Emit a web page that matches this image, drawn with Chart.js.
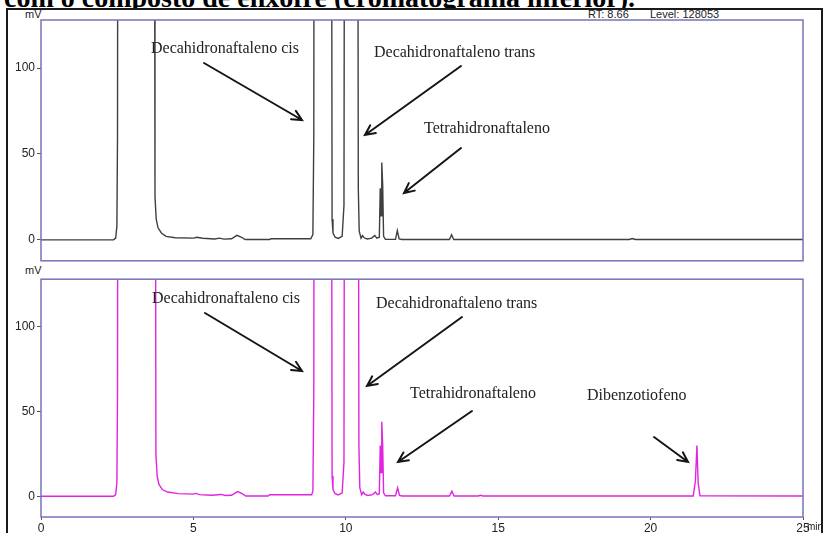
<!DOCTYPE html>
<html>
<head>
<meta charset="utf-8">
<script src="https://cdn.jsdelivr.net/npm/chart.js@4.4.1/dist/chart.umd.min.js"></script>
<style>
    body { margin: 0; background: #fff; width: 824px; height: 533px; overflow: hidden; position: relative; }
    canvas { position: absolute; left: 0; }
    #frame { position: absolute; left: 6px; top: 8px; width: 817px; height: 600px; box-sizing: border-box; background: #fff;
             border-left: 2px solid #1a1a1a; border-top: 2px solid #1a1a1a; border-right: 2px solid #1a1a1a; }
    .title { position: absolute; left: 4px; top: -16px; font: bold 28px "Liberation Serif", "Times New Roman", serif; line-height: 28px; color: #000; white-space: nowrap; }
    .small { position: absolute; font: 11px "Liberation Sans Narrow", "Arial Narrow", sans-serif; line-height: 11px; color: #222; white-space: nowrap; }
    .note { position: absolute; font: 16px "Liberation Serif", "Times New Roman", serif; line-height: 16px; color: #222; white-space: nowrap; }
</style>
</head>
<body>
<div class="title">com o composto de enxofre (cromatograma inferior).</div>
<div id="frame"></div>
<div class="small" style="left:25px; top:9px;">mV</div>
<div class="small" style="left:588px; top:9px;">RT: 8.66</div>
<div class="small" style="left:650px; top:9px;">Level: 128053</div>
<div class="small" style="left:25px; top:265px;">mV</div>

<canvas id="topPanel" width="824" height="270" style="top:0px"></canvas>
<canvas id="bottomPanel" width="824" height="263" style="top:270px"></canvas>

<div class="note" style="left:151px; top:40px;">Decahidronaftaleno cis</div>
<div class="note" style="left:374px; top:44px;">Decahidronaftaleno trans</div>
<div class="note" style="left:424px; top:120px;">Tetrahidronaftaleno</div>
<div class="note" style="left:152px; top:290px;">Decahidronaftaleno cis</div>
<div class="note" style="left:376px; top:295px;">Decahidronaftaleno trans</div>
<div class="note" style="left:410px; top:385px;">Tetrahidronaftaleno</div>
<div class="note" style="left:587px; top:387px;">Dibenzotiofeno</div>
<div class="small" style="left:807px; top:521px; font-size:10px;">min</div>

<script>
// retention time (min) and signal (mV)
const timeTop = [0, 2.38, 2.45, 2.49, 2.51, 2.53, 3.10, 3.71, 3.74, 3.78, 3.84, 3.95, 4.10, 4.40, 5.00, 5.12, 5.30, 5.70, 5.85, 6.00,
    6.25, 6.43, 6.58, 6.70, 7.50, 7.55, 8.85, 8.92, 8.95, 8.97, 9.52, 9.55, 9.58, 9.65, 9.75, 9.88, 9.94, 9.97, 10.38, 10.41,
    10.44, 10.50, 10.55, 10.60, 10.70, 10.85, 10.95, 11.02, 11.10, 11.13, 11.155, 11.18, 11.21, 11.24, 11.30, 11.63, 11.69, 11.75, 11.85, 13.40,
    13.47, 13.54, 19.30, 19.40, 19.50, 25];
const mvTop = [0, 0, 1, 8, 60, 400, 400, 400, 25, 12, 7, 4, 2, 1.2, 1.0, 1.5, 0.9, 0.5, 1.0, 0.4,
    0.6, 2.6, 1.5, 0.2, 0.2, 0.6, 0.6, 3, 60, 400, 400, 12, 4, 1.5, 0.8, 2, 20, 400, 400, 30,
    5, 1, 2.5, 1.2, 0.5, 1.0, 2.5, 1.0, 1.5, 30, 14, 45, 32, 2, 0.3, 0.3, 5.4, 0.5, 0.2, 0.2,
    3, 0.2, 0.2, 0.8, 0.2, 0.2];

// lower chromatogram (with the sulphur compound)
const timeBottom = [0, 2.38, 2.45, 2.49, 2.51, 2.53, 3.10, 3.74, 3.77, 3.81, 3.87, 3.98, 4.15, 4.50, 5.00, 5.08, 5.20, 5.60, 5.90, 6.05,
    6.25, 6.45, 6.60, 6.72, 7.45, 7.50, 8.88, 8.92, 8.95, 8.97, 9.52, 9.55, 9.58, 9.65, 9.75, 9.88, 9.94, 9.97, 10.40, 10.43,
    10.46, 10.52, 10.57, 10.62, 10.72, 10.88, 10.97, 11.04, 11.10, 11.13, 11.155, 11.18, 11.21, 11.24, 11.30, 11.63, 11.70, 11.76, 11.85, 13.40,
    13.48, 13.55, 14.35, 14.42, 14.50, 21.40, 21.47, 21.52, 21.56, 21.62, 25];
const mvBottom = [0, 0, 1, 8, 60, 400, 400, 400, 25, 12, 7, 4, 2.5, 1.6, 1.3, 1.7, 1.0, 0.6, 1.1, 0.5,
    0.6, 2.8, 1.6, 0.2, 0.2, 0.9, 0.9, 3, 60, 400, 400, 12, 4, 1.5, 0.8, 2, 20, 400, 400, 30,
    5, 1, 2.5, 1.2, 0.5, 1.0, 2.5, 1.0, 1.5, 30, 14, 44, 30, 2, 0.3, 0.3, 5.0, 0.5, 0.2, 0.2,
    3, 0.2, 0.2, 0.6, 0.2, 0.2, 9, 30, 8, 0.3, 0.2];

const mvTicks = [0, 50, 100];
const minTicks = [0, 5, 10, 15, 20, 25];

// arrows in page pixels: [fromX, fromY, tipX, tipY]
const arrowsTop = [[204, 63, 302, 120], [461, 66, 365, 135], [461, 148, 404, 193]];
const arrowsBottom = [[205, 313, 302, 371], [462, 317, 367, 386], [472, 411, 398, 462], [654, 437, 688, 462]];

const tickFont = { family: '"Liberation Sans Narrow", "Arial Narrow", sans-serif', size: 12 };

const panelBox = {
    id: 'panelBox',
    afterDatasetsDraw(chart) {
        const a = chart.chartArea, ctx = chart.ctx;
        ctx.save();
        ctx.strokeStyle = '#7474b8';
        ctx.lineWidth = 1.5;
        ctx.strokeRect(a.left, a.top, a.right - a.left, a.bottom - a.top);
        ctx.restore();
    }
};

const arrowLayer = {
    id: 'arrowLayer',
    afterDraw(chart, args, opts) {
        const ctx = chart.ctx;
        const dy = chart.canvas.offsetTop;
        ctx.save();
        ctx.strokeStyle = '#151515';
        ctx.lineWidth = 2;
        ctx.lineCap = 'round';
        (opts.arrows || []).forEach(([x1, y1, x2, y2]) => {
            y1 -= dy; y2 -= dy;
            const ang = Math.atan2(y2 - y1, x2 - x1);
            ctx.beginPath();
            ctx.moveTo(x1, y1);
            ctx.lineTo(x2, y2);
            ctx.moveTo(x2 - 11 * Math.cos(ang - 0.45), y2 - 11 * Math.sin(ang - 0.45));
            ctx.lineTo(x2, y2);
            ctx.lineTo(x2 - 11 * Math.cos(ang + 0.45), y2 - 11 * Math.sin(ang + 0.45));
            ctx.stroke();
        });
        ctx.restore();
    }
};

function buildPanel(canvasId, times, values, color, showTime, padding, arrows) {
    const points = times.map((t, i) => ({ x: t, y: values[i] }));
    return new Chart(document.getElementById(canvasId), {
        type: 'line',
        data: { datasets: [{ data: points, borderColor: color, borderWidth: 1.4, pointRadius: 0, tension: 0, clip: 0 }] },
        options: {
            responsive: false,
            animation: false,
            layout: { padding: padding },
            plugins: { legend: { display: false }, tooltip: { enabled: false }, arrowLayer: { arrows: arrows } },
            scales: {
                x: {
                    type: 'linear', min: 0, max: 25, display: showTime,
                    afterBuildTicks: s => { s.ticks = minTicks.map(v => ({ value: v })); },
                    afterFit: s => { s.height = showTime ? 16 : 0; },
                    grid: { drawOnChartArea: false, drawTicks: true, tickLength: 3, color: '#555' },
                    border: { display: false },
                    ticks: { font: tickFont, color: '#222', padding: 1, maxRotation: 0 }
                },
                y: {
                    type: 'linear', min: -12.2, max: 128,
                    afterBuildTicks: s => { s.ticks = mvTicks.map(v => ({ value: v })); },
                    afterFit: s => { s.width = 41; },
                    grid: { drawOnChartArea: false, drawTicks: true, tickLength: 4, color: '#555' },
                    border: { display: false },
                    ticks: { font: tickFont, color: '#222', padding: 2 }
                }
            }
        },
        plugins: [panelBox, arrowLayer]
    });
}

buildPanel('topPanel', timeTop, mvTop, '#3f3f3f', false, { top: 20, right: 21, bottom: 9, left: 0 }, arrowsTop);
buildPanel('bottomPanel', timeBottom, mvBottom, '#e024e0', true, { top: 6, right: 21, bottom: 0, left: 0 }, arrowsBottom);
</script>
</body>
</html>
